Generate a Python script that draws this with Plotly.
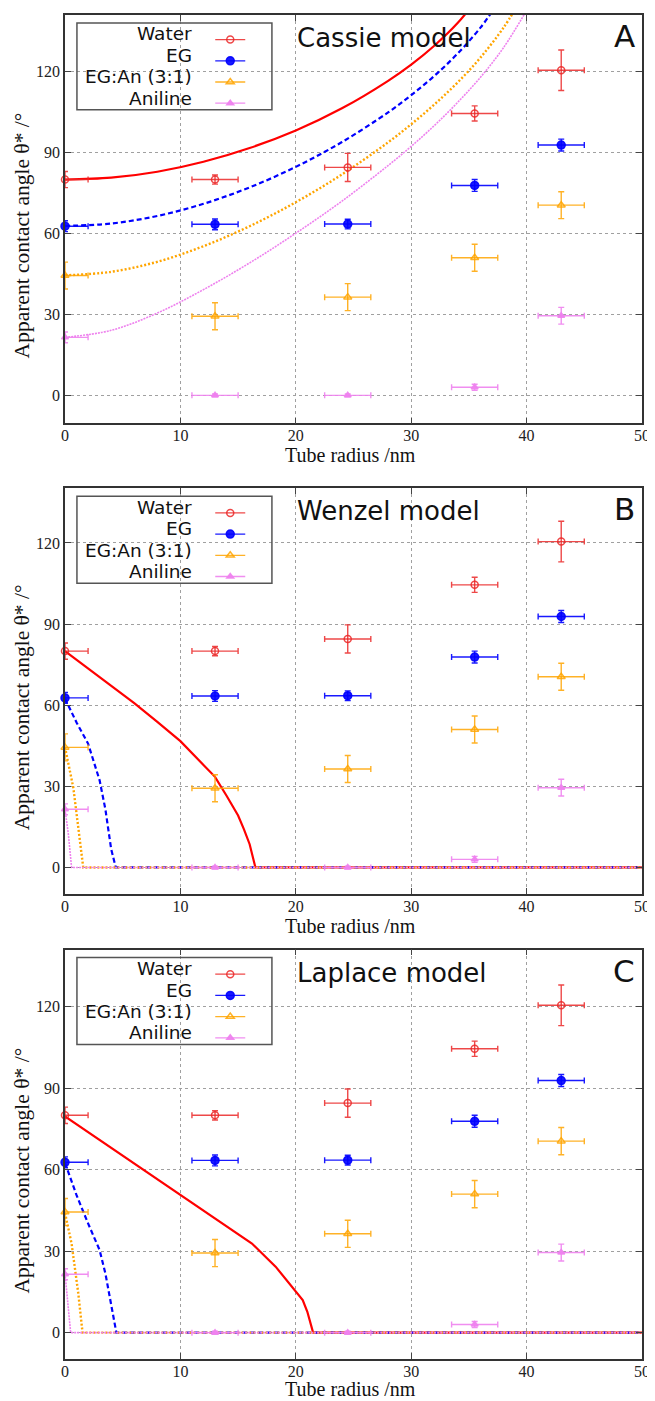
import plotly.graph_objects as go
from plotly.subplots import make_subplots

# ---------------- data ----------------
liquids = ["Water", "EG", "EG:An (3:1)", "Aniline"]
radius = [0, 13, 24.5, 35.5, 43]
radius_err = [2, 2, 2, 2, 2]

water = [80.0, 80.0, 84.5, 104.5, 120.5]
water_err = [3.0, 1.7, 5.2, 2.8, 7.5]
eg = [62.7, 63.4, 63.5, 77.8, 92.8]
eg_err = [2.0, 2.0, 1.8, 2.2, 2.2]
egan = [44.4, 29.3, 36.4, 51.0, 70.5]
egan_err = [5.0, 5.0, 5.0, 5.0, 5.0]
aniline = [21.5, 0.0, 0.0, 3.0, 29.5]
aniline_err = [2.0, 0.5, 0.5, 1.1, 3.1]

# Cassie model curves
cassie_water_r = [0, 4, 8, 12, 16, 20, 24, 28, 30, 32, 34, 36]
cassie_water = [80.0, 80.7, 82.9, 86.6, 91.7, 98.2, 106.4, 116.6, 122.6, 129.6, 137.9, 148.5]
cassie_eg_r = [0, 4, 8, 12, 16, 20, 24, 28, 30, 32, 34, 36, 37]
cassie_eg = [62.8, 63.7, 66.5, 71.0, 77.1, 84.7, 93.9, 104.9, 111.3, 118.4, 126.6, 136.3, 142.2]
cassie_egan_r = [0, 4, 8, 12, 16, 20, 24, 28, 30, 32, 34, 36, 38, 39]
cassie_egan = [44.5, 45.8, 49.5, 55.3, 62.7, 71.6, 81.9, 93.8, 100.5, 107.8, 115.9, 125.2, 136.3, 143.1]
cassie_aniline_r = [0, 4, 8, 12, 16, 20, 24, 28, 30, 32, 34, 36, 38, 40]
cassie_aniline = [21.5, 24.1, 30.5, 39.2, 49.1, 60.1, 72.0, 85.2, 92.3, 100.0, 108.5, 117.9, 128.9, 142.7]

# Wenzel model curves (panel B)
wenzel_water_r = [0, 2, 4, 6, 8, 10, 12, 13, 14, 15, 15.5, 16, 16.5, 50]
wenzel_water = [80.0, 73.6, 67.2, 60.8, 53.8, 46.7, 37.9, 33.5, 26.5, 19.2, 14.2, 8.6, 0, 0]
wenzel_eg_r = [0, 1, 2, 3, 3.5, 4, 4.4, 50]
wenzel_eg = [62.5, 53.6, 45.8, 32.2, 21.5, 6.8, 0, 0]
wenzel_egan_r = [0, 0.72, 1.15, 1.52, 1.58, 50]
wenzel_egan = [44.5, 29.5, 14.8, 1.0, 0, 0]
wenzel_aniline_r = [0, 0.29, 0.57, 50]
wenzel_aniline = [21.5, 12.3, 0, 0]

# Laplace model curves (panel C)
laplace_water_r = [0, 5, 10, 15, 16.2, 18.25, 19.7, 20.6, 21.0, 21.5, 50]
laplace_water = [79.6, 65.2, 50.8, 36.4, 32.8, 24.3, 16.9, 12.0, 7.7, 0, 0]
laplace_eg_r = [0, 1, 2, 3, 3.5, 4, 4.45, 50]
laplace_eg = [62.5, 50.6, 40.2, 30.4, 21.8, 10.8, 0, 0]
laplace_egan_r = [0, 0.57, 1.15, 1.52, 50]
laplace_egan = [44.1, 32.8, 14.5, 0, 0]
laplace_aniline_r = [0, 0.29, 0.49, 50]
laplace_aniline = [21.8, 9.6, 0, 0]

x_ticks = [0, 10, 20, 30, 40, 50]
y_ticks = [0, 30, 60, 90, 120]
panel_titles = ["Cassie model", "Wenzel model", "Laplace model"]
panel_letters = ["A", "B", "C"]

# ---------------- layout helpers ----------------
# the page body adds an 8px margin, so the figure is shrunk by that amount
OFF = 8
W, H = 655 - OFF, 1401 - OFF
ML, MR, MT, MB = 65 - OFF, 10, 13 - OFF, 42
PW, PH = W - ML - MR, H - MT - MB


def px2x(px):
    return (px - OFF - ML) / PW


def px2y(py):
    return (H - MB - (py - OFF)) / PH


panel_px = [(13, 422), (487, 893), (949, 1359)]  # top, bottom in screen pixels
yranges = [[-10.4, 141], [-9.7, 140.2], [-9.7, 141]]
xtitle_gap = [32, 32, 30]

colors = ["#ff0000", "#0000ff", "#ffa500", "#ee82ee"]
mcolors = ["rgba(235,40,40,0.85)", "rgba(0,0,255,0.9)", "rgba(255,165,0,0.85)", "rgba(238,130,238,0.9)"]
symbols = ["circle-open", "circle", "triangle-up-open", "triangle-up"]
msizes = [7, 8, 7, 6]
dashes = ["solid", "5px,3px", "2px,2px", "2px,1px"]
widths = [2.2, 2.2, 2.4, 1.6]

series = [(water, water_err), (eg, eg_err), (egan, egan_err), (aniline, aniline_err)]
curves = [
    [(cassie_water_r, cassie_water), (cassie_eg_r, cassie_eg), (cassie_egan_r, cassie_egan), (cassie_aniline_r, cassie_aniline)],
    [(wenzel_water_r, wenzel_water), (wenzel_eg_r, wenzel_eg), (wenzel_egan_r, wenzel_egan), (wenzel_aniline_r, wenzel_aniline)],
    [(laplace_water_r, laplace_water), (laplace_eg_r, laplace_eg), (laplace_egan_r, laplace_egan), (laplace_aniline_r, laplace_aniline)],
]

fig = make_subplots(rows=3, cols=1)

legend_names = ["legend", "legend2", "legend3"]
for p in range(3):
    row = p + 1
    for i in range(4):
        cr, cv = curves[p][i]
        fig.add_trace(go.Scatter(
            x=cr, y=cv, mode="lines",
            line=dict(color=colors[i], width=widths[i], dash=dashes[i],
                      shape="spline" if p == 0 else "linear"),
            showlegend=False, hoverinfo="skip"), row=row, col=1)
    for i in range(4):
        vals, errs = series[i]
        fig.add_trace(go.Scatter(
            x=radius, y=vals, mode="markers",
            marker=dict(symbol=symbols[i], size=msizes[i], color=mcolors[i],
                        line=dict(color=mcolors[i], width=1.5)),
            error_x=dict(type="data", array=radius_err, color=mcolors[i], thickness=1.4, width=3),
            error_y=dict(type="data", array=errs, color=mcolors[i], thickness=1.4, width=3),
            showlegend=False, cliponaxis=False), row=row, col=1)
    # legend samples
    for i in range(4):
        fig.add_trace(go.Scatter(
            x=[None], y=[None], mode="lines+markers", name=" ",
            marker=dict(symbol=symbols[i], size=msizes[i], color=mcolors[i],
                        line=dict(color=mcolors[i], width=1.5)),
            line=dict(color=mcolors[i], width=1.3),
            legend=legend_names[p], showlegend=True), row=row, col=1)

annotations = []
shapes = []
layout_legends = {}
for p in range(3):
    top, bot = panel_px[p]
    yaxis_name = "yaxis" if p == 0 else f"yaxis{p + 1}"
    xaxis_name = "xaxis" if p == 0 else f"xaxis{p + 1}"
    fig.layout[xaxis_name].domain = [0, 1]
    fig.layout[yaxis_name].domain = [px2y(bot), px2y(top)]
    # legend frame
    btop = top + 8
    shapes.append(dict(type="rect", xref="paper", yref="paper",
                       x0=px2x(77), x1=px2x(273), y0=px2y(btop), y1=px2y(btop + 87),
                       line=dict(color="#555", width=1.5), fillcolor="rgba(0,0,0,0)"))
    for i, name in enumerate(liquids):
        annotations.append(dict(text=name, xref="paper", yref="paper",
                                x=px2x(195), y=px2y(btop + 11 + 21.5 * i),
                                xanchor="right", yanchor="middle", showarrow=False,
                                font=dict(family="DejaVu Sans", size=18.5, color="#111")))
    layout_legends[legend_names[p]] = dict(
        x=px2x(211), y=px2y(btop + 1), xanchor="left", yanchor="top",
        bgcolor="rgba(0,0,0,0)", borderwidth=0, font=dict(size=14),
        itemwidth=30, tracegroupgap=0)
    annotations.append(dict(text=panel_titles[p], xref="paper", yref="paper",
                            x=px2x(296), y=px2y(top + 23), xanchor="left", yanchor="middle",
                            showarrow=False, font=dict(family="DejaVu Sans", size=26, color="#111")))
    annotations.append(dict(text=panel_letters[p], xref="paper", yref="paper",
                            x=px2x(640), y=px2y(top + 21), xanchor="right", yanchor="middle",
                            showarrow=False, font=dict(family="DejaVu Sans", size=31, color="#111")))
    annotations.append(dict(text="Apparent contact angle θ* /°", xref="paper", yref="paper",
                            x=px2x(22), y=px2y((top + bot) / 2 + 16), xanchor="center", yanchor="middle",
                            textangle=-90, showarrow=False,
                            font=dict(family="Liberation Serif", size=21.5, color="#111")))
    annotations.append(dict(text="Tube radius /nm", xref="paper", yref="paper",
                            x=px2x(352), y=px2y(bot + xtitle_gap[p]), xanchor="center", yanchor="middle",
                            showarrow=False,
                            font=dict(family="Liberation Serif", size=20, color="#111")))

axis_common = dict(showline=True, linecolor="#333", linewidth=1.6, mirror="ticks",
                   ticks="inside", ticklen=6, tickcolor="#444", tickwidth=1.2,
                   showgrid=True, gridcolor="#a0a0a0", griddash="dot", gridwidth=1,
                   zeroline=False,
                   tickfont=dict(family="Liberation Serif", size=16, color="#222"))
for p in range(3):
    xaxis_name = "xaxis" if p == 0 else f"xaxis{p + 1}"
    yaxis_name = "yaxis" if p == 0 else f"yaxis{p + 1}"
    fig.layout[xaxis_name].update(range=[0, 50], tickvals=x_ticks, ticklabelstandoff=-3, **axis_common)
    fig.layout[yaxis_name].update(range=yranges[p], tickvals=y_ticks, **axis_common)

fig.update_layout(width=W, height=H, margin=dict(l=ML, r=MR, t=MT, b=MB),
                  plot_bgcolor="white", paper_bgcolor="white",
                  annotations=annotations, shapes=shapes, **layout_legends)

fig.write_html("out.html")
